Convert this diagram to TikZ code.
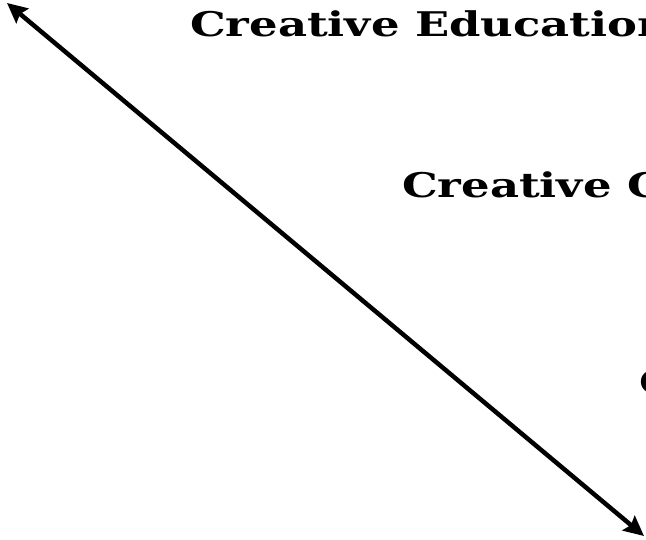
\documentclass[tikz,border=0pt]{standalone}
\usepackage{fontspec}
\usepackage{graphicx}
\setmainfont{DejaVu Serif}
\usetikzlibrary{arrows.meta}
\begin{document}
\begin{tikzpicture}[x=1pt,y=-1pt]
\useasboundingbox (0,0) rectangle (646,540);
\tikzset{level/.style={anchor=base west, inner sep=0pt, font=\fontsize{34}{40}\selectfont\bfseries}}
% levels of creativity
\node[level] (edu) at (190,37) {\scalebox{1.32}[1]{Creative Education}};
\node[level] (cls) at (402,198) {\scalebox{1.32}[1]{Creative C}};
\node[level] (one) at (639,395) {\scalebox{1.32}[1]{C}};
% the scale
\coordinate (high) at (7,3);
\coordinate (low) at (644,536);
\draw[line width=4.5pt, {Stealth[length=20pt,width=19pt,inset=3pt]}-{Stealth[length=20pt,width=19pt,inset=3pt]}] (high) -- (low);
\end{tikzpicture}
\end{document}
